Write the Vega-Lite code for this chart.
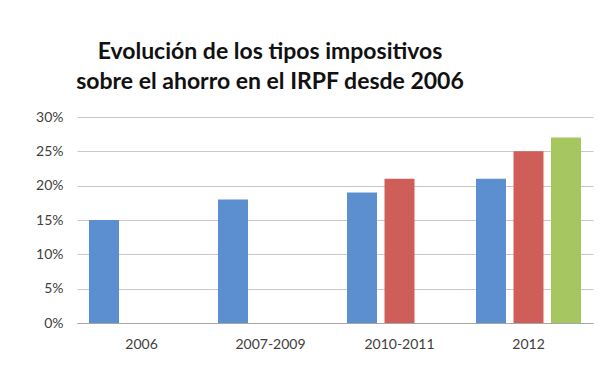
{
  "$schema": "https://vega.github.io/schema/vega-lite/v6.json",
  "autosize": "none",
  "width": 516,
  "height": 206,
  "padding": {"left": 77, "top": 117, "right": 15, "bottom": 42},
  "background": "white",
  "title": {
    "text": ["Evolución de los tipos impositivos", "sobre el ahorro en el IRPF desde 2006"],
    "font": "Lato",
    "fontSize": 23,
    "fontWeight": "bold",
    "color": "#111111",
    "anchor": "middle",
    "baseline": "alphabetic",
    "lineHeight": 30,
    "offset": -2,
    "dx": -65
  },
  "data": {
    "values": [
      {"periodo": "2006", "serie": "A", "tipo": 0.15},
      {"periodo": "2007-2009", "serie": "A", "tipo": 0.18},
      {"periodo": "2010-2011", "serie": "A", "tipo": 0.19},
      {"periodo": "2010-2011", "serie": "B", "tipo": 0.21},
      {"periodo": "2012", "serie": "A", "tipo": 0.21},
      {"periodo": "2012", "serie": "B", "tipo": 0.25},
      {"periodo": "2012", "serie": "C", "tipo": 0.27}
    ]
  },
  "mark": {"type": "bar"},
  "encoding": {
    "x": {
      "field": "periodo",
      "type": "nominal",
      "sort": null,
      "title": null,
      "scale": {"paddingInner": 0.186, "paddingOuter": 0.093},
      "axis": {
        "labelAngle": 0,
        "ticks": false,
        "domainColor": "#a6a6a6",
        "labelFont": "Lato",
        "labelFontSize": 14,
        "labelColor": "#404040",
        "labelPadding": 14
      }
    },
    "xOffset": {
      "field": "serie",
      "type": "nominal",
      "scale": {"paddingInner": 0.2, "paddingOuter": 0}
    },
    "y": {
      "field": "tipo",
      "type": "quantitative",
      "title": null,
      "scale": {"domain": [0, 0.3], "nice": false},
      "axis": {
        "format": ".0%",
        "values": [0, 0.05, 0.1, 0.15, 0.2, 0.25, 0.3],
        "domain": false,
        "ticks": false,
        "gridColor": "#c8c8c8",
        "labelFont": "Lato",
        "labelFontSize": 14,
        "labelColor": "#404040",
        "labelPadding": 14
      }
    },
    "color": {
      "field": "serie",
      "type": "nominal",
      "legend": null,
      "scale": {"domain": ["A", "B", "C"], "range": ["#5B8FCF", "#CF5E59", "#A6C660"]}
    }
  },
  "config": {"view": {"stroke": null}}
}
